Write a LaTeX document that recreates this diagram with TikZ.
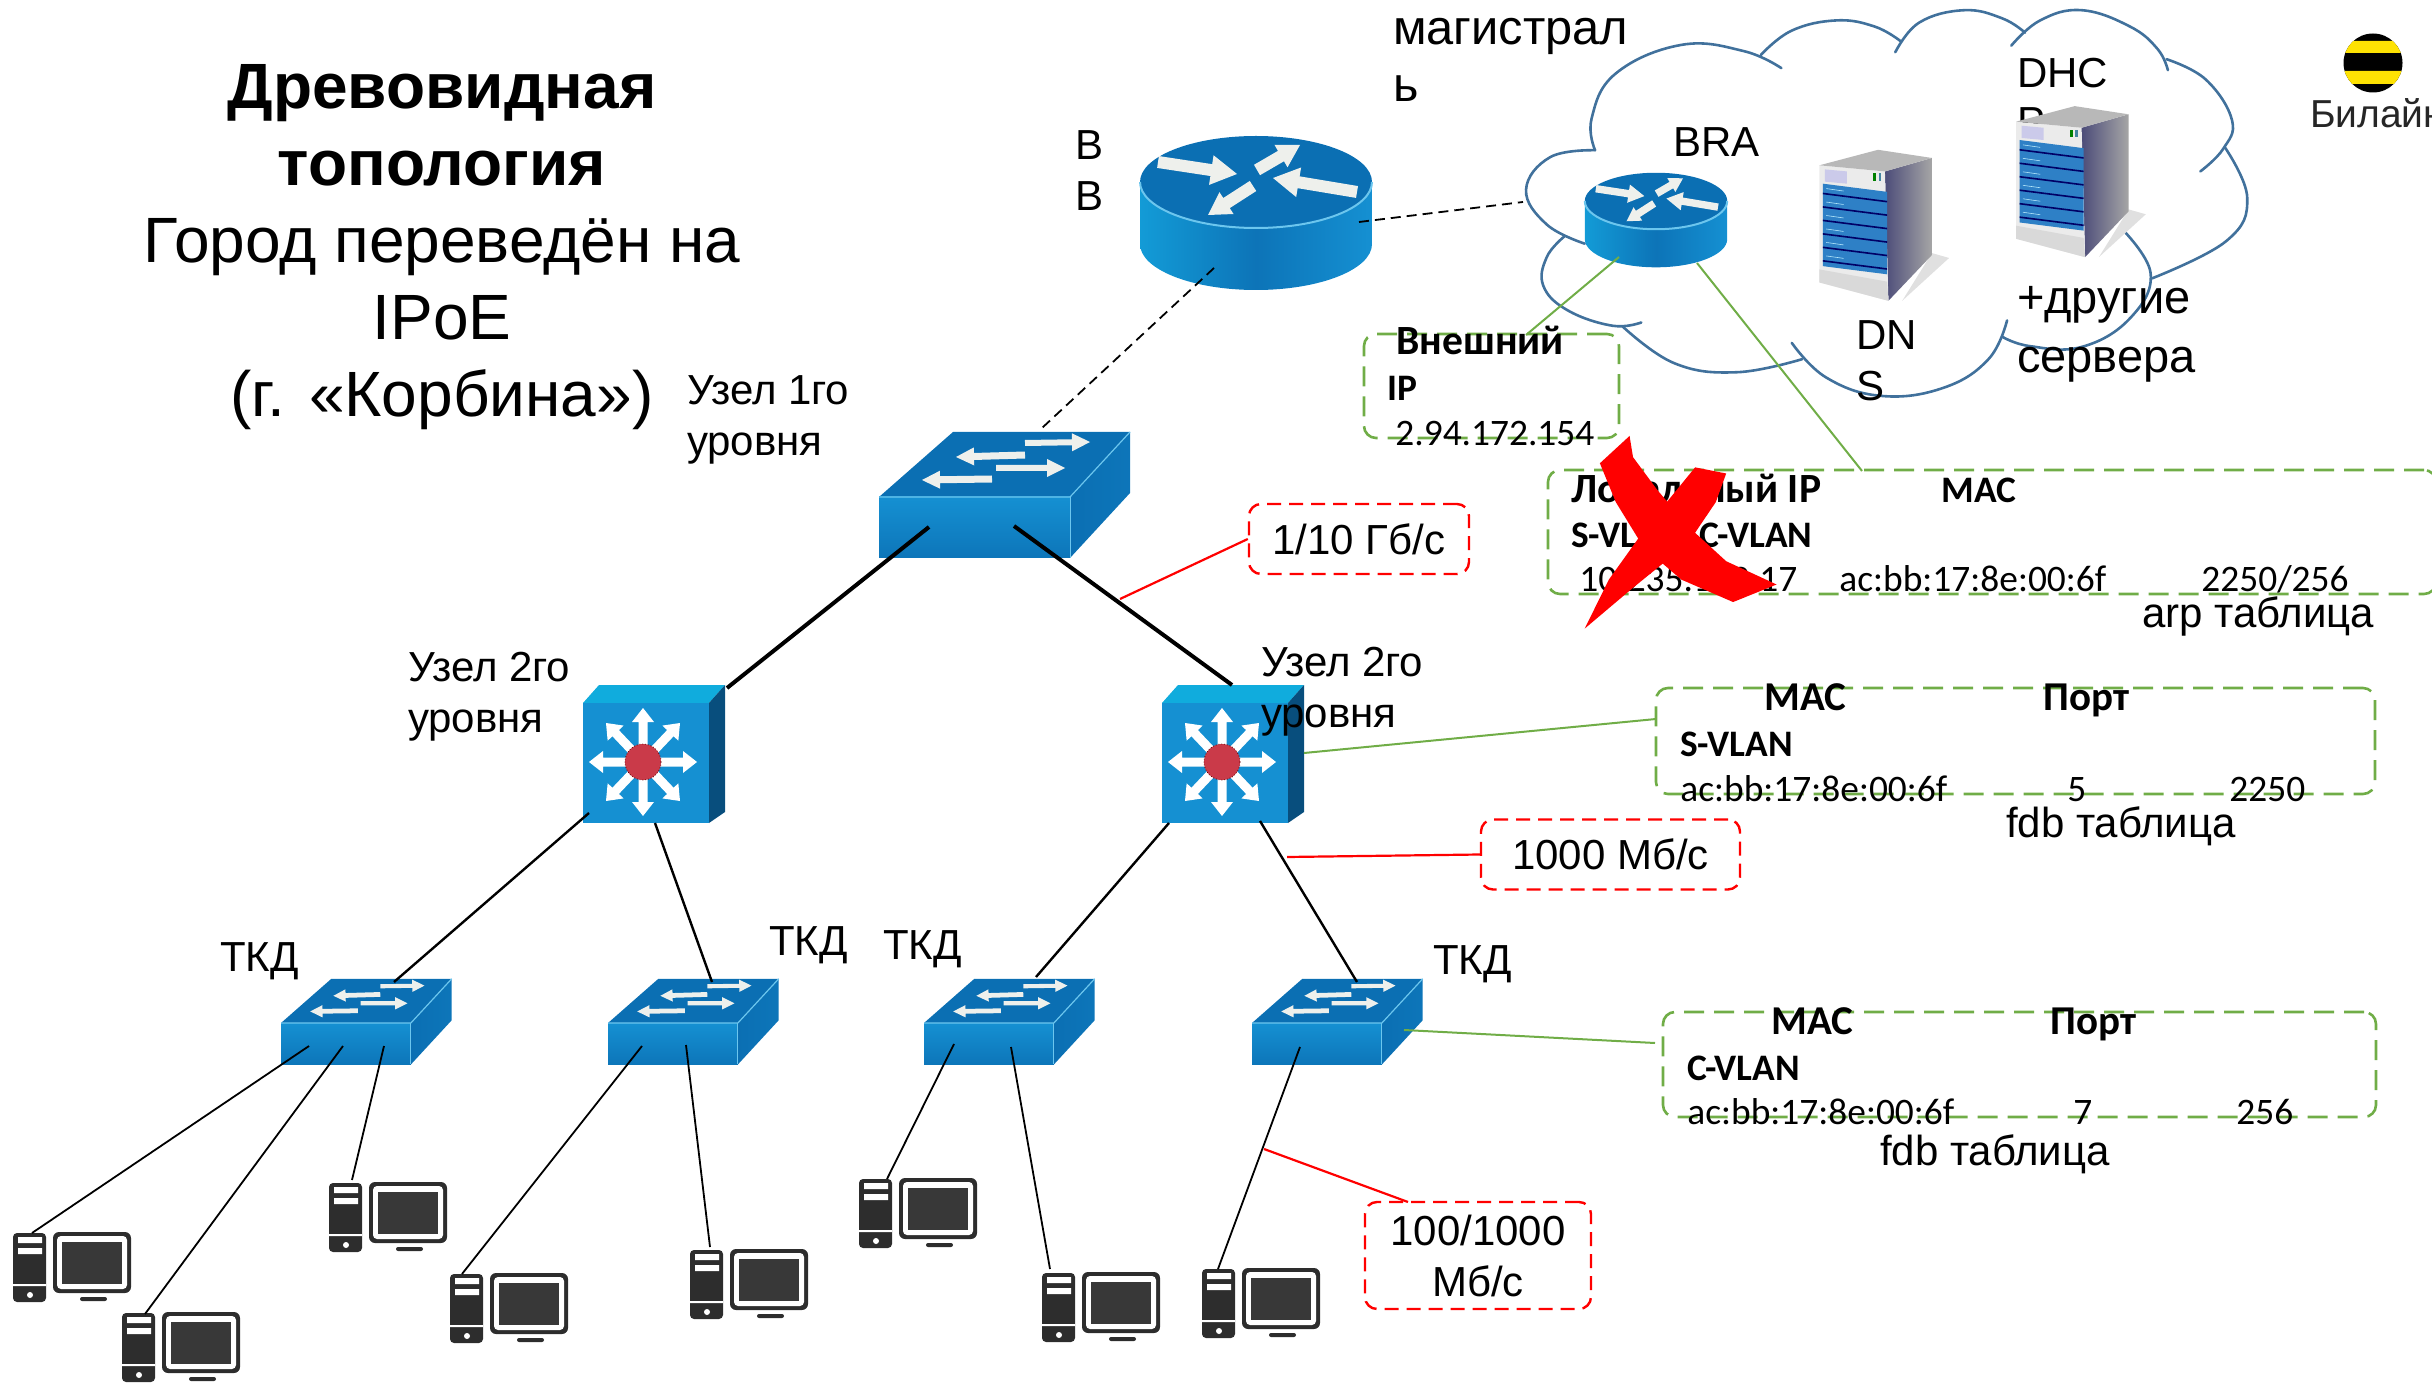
\documentclass[tikz,border=0pt]{standalone}
\usepackage{fontspec}
\setmainfont{Liberation Sans}
\newfontfamily\carl{Carlito}
\usetikzlibrary{calc}
\definecolor{cloudblue}{HTML}{41719C}
\definecolor{tgreen}{HTML}{70AD47}
\definecolor{tred}{HTML}{FF0000}
\definecolor{ciscoD}{HTML}{0B6FB3}
\definecolor{ciscoM}{HTML}{1590D2}
\definecolor{ciscoL}{HTML}{6CC6EE}
\definecolor{pcdark}{HTML}{2D2D2D}
\definecolor{arrowcream}{HTML}{EEF0EC}
\definecolor{rackblue}{HTML}{2E80C6}
\newcommand\warrow[8]{%
  \pgfmathsetmacro\wL{veclen(#3-#1,#4-#2)}%
  \pgfmathsetmacro\wux{(#3-#1)/\wL}%
  \pgfmathsetmacro\wuy{(#4-#2)/\wL}%
  \pgfmathsetmacro\wbx{#3-\wux*#6}%
  \pgfmathsetmacro\wby{#4-\wuy*#6}%
  \fill[#8] ({#1-\wuy*#5},{#2+\wux*#5}) -- ({\wbx-\wuy*#5},{\wby+\wux*#5}) -- ({\wbx-\wuy*#7},{\wby+\wux*#7}) -- (#3,#4) -- ({\wbx+\wuy*#7},{\wby-\wux*#7}) -- ({\wbx+\wuy*#5},{\wby-\wux*#5}) -- ({#1+\wuy*#5},{#2-\wux*#5}) -- cycle;}
% router: origin = centre of top ellipse
\newcommand\routerico[3]{%
\begin{scope}[shift={(#1,#2)},scale=#3]
  \shade[left color=ciscoM!90!cyan,right color=ciscoM,middle color=ciscoD!85!ciscoM]
    (-116,0) -- (-116,62) arc[x radius=116,y radius=46,start angle=180,end angle=0] -- (116,0) -- cycle;
  \fill[ciscoD] (0,0) ellipse[x radius=116,y radius=46];
  \draw[ciscoL,line width=1pt] (-116,0) arc[x radius=116,y radius=46,start angle=180,end angle=0];
  \warrow{-98}{-20}{-19}{-8}{6}{26}{15}{arrowcream}
  \warrow{1}{-12}{44}{-37}{6}{22}{13}{arrowcream}
  \warrow{101}{10}{17}{-4}{6}{26}{15}{arrowcream}
  \warrow{-3}{4}{-48}{33}{6}{22}{13}{arrowcream}
\end{scope}}
% switch: origin = top-left of front face
\newcommand\switchico[3]{%
\begin{scope}[shift={(#1,#2)},scale=#3]
  \fill[ciscoD] (0,0) -- (191,0) -- (251,-65) -- (74,-65) -- cycle;
  \shade[top color=ciscoM,bottom color=ciscoD!80!ciscoM] (0,0) rectangle (191,61);
  \shade[left color=ciscoD,right color=ciscoD!80!ciscoM] (191,0) -- (251,-65) -- (251,-4) -- (191,61) -- cycle;
  \draw[ciscoL,line width=.6pt] (0,0) -- (191,0) -- (251,-65);
  \draw[ciscoL,line width=.5pt] (191,0) -- (191,61);
  \warrow{146}{-54}{211}{-55}{3}{18}{9}{arrowcream}
  \warrow{146}{-42}{77}{-40}{3.5}{18}{9}{arrowcream}
  \warrow{117}{-29}{186}{-29}{3}{18}{9}{arrowcream}
  \warrow{113}{-18}{43}{-17}{3.5}{18}{9}{arrowcream}
\end{scope}}
% multilayer switch: origin = top-left of front face
\newcommand\mlico[2]{%
\begin{scope}[shift={(#1,#2)}]
  \fill[ciscoM!75!cyan] (0,0) -- (16,-18) -- (142,-18) -- (126,0) -- cycle;
  \fill[ciscoD!70!black] (126,0) -- (142,-18) -- (142,109) -- (126,120) -- cycle;
  \fill[ciscoM] (0,0) rectangle (126,120);
  \foreach \ax/\ay in {60/5,60/113,6/59,114/59,23/20,97/20,23/98,97/98}{%
    \warrow{60}{59}{\ax}{\ay}{4.5}{14}{11}{white}}
  \fill[red!75!ciscoM!90!white] (60,59) circle[radius=18];
  \draw[black!60!red,densely dotted,line width=.4pt] (60,59) circle[radius=18];
\end{scope}}
% desktop PC: origin = top-left of tower
\newcommand\pcico[2]{%
\begin{scope}[shift={(#1,#2)}]
  \fill[pcdark,rounded corners=2pt] (0,0) rectangle (33,69);
  \fill[white] (5,4) rectangle (29,10) (5,15) rectangle (29,21) (0,51) rectangle (33,53);
  \fill[white] (17,62) circle[radius=3];
  \fill[pcdark,rounded corners=3pt] (40,-1) rectangle (118,60);
  \fill[white,rounded corners=2pt] (44,3) rectangle (114,56);
  \fill[pcdark!95!white] (49,9) rectangle (109,51);
  \fill[pcdark,rounded corners=1pt] (67,64) rectangle (94,68);
\end{scope}}
% server tower, in the coordinates of the right-hand crop
\newcommand\serverico[2]{%
\begin{scope}[shift={(#1,#2)}]
  \fill[black!12] (843,620) -- (868,632) -- (800,737) -- cycle;
  \shade[left color=black!75!blue!70,right color=black!35] (775,420) -- (843,387) -- (843,625) -- (780,737) -- cycle;
  \fill[black!8] (680,405) -- (775,420) -- (780,737) -- (680,692) -- cycle;
  \fill[black!28] (680,405) -- (765,367) -- (843,387) -- (775,420) -- cycle;
  \fill[cyan!20!blue!20] (688,415) -- (720,420) -- (720,450) -- (688,445) -- cycle;
  \fill[green!50!black] (758,425) rectangle +(4,18);
  \fill[cyan!60!black] (766,425) rectangle +(4,18);
  \fill[rackblue] (685,450) -- (778,470) -- (778,672) -- (685,652) -- cycle;
  \foreach \ry in {0,1,2,3,4,5}{%
    \fill[black!60!blue] (685,{472+\ry*33}) -- (778,{492+\ry*33}) -- (778,{496+\ry*33}) -- (685,{476+\ry*33}) -- cycle;
    \draw[cyan!30,line width=.3pt] (690,{462+\ry*33}) -- (715,{468+\ry*33});}
  \fill[black!15] (680,660) -- (778,690) -- (780,737) -- (680,692) -- cycle;
\end{scope}}
\tikzset{
  lbl/.style={inner sep=0pt,outer sep=0pt,anchor=base west,align=left,text=black,
    font=\fontsize{21}{25.5}\selectfont},
  tblb/.style={inner sep=0pt,anchor=base west,font=\carl\bfseries\fontsize{18.7}{22}\selectfont},
  tblw/.style={inner sep=0pt,anchor=base west,font=\carl\bfseries\fontsize{20.8}{24}\selectfont},
  tblh/.style={inner sep=0pt,anchor=base west,font=\carl\bfseries\fontsize{20.5}{24}\selectfont},
  tbld/.style={inner sep=0pt,anchor=base west,font=\carl\fontsize{18.7}{22}\selectfont},
  dev/.style={inner sep=0pt,outer sep=0pt,minimum width={#1*0.5pt}},
  greenbox/.style={draw=tgreen,line width=1.3pt,rounded corners=6pt,dash pattern=on 10pt off 5pt,inner sep=0pt},
  redbox/.style={draw=tred,line width=1.2pt,rounded corners=6pt,dash pattern=on 7pt off 4pt,inner sep=0pt,
    align=center,font=\fontsize{21}{25.5}\selectfont},
  thick link/.style={draw=black,line width=2pt},
  mid link/.style={draw=black,line width=1.2pt},
  thin link/.style={draw=black,line width=.9pt},
  dash link/.style={draw=black,line width=.9pt,dash pattern=on 5pt off 3pt},
  red link/.style={draw=tred,line width=1.1pt},
  green link/.style={draw=tgreen,line width=1pt},
  cloudline/.style={draw=cloudblue,line width=1.3pt},
}
\begin{document}
\begin{tikzpicture}[x=0.5pt,y=-0.5pt]
\useasboundingbox (0,0) rectangle (2432,1390);
% cloud
\begin{scope}[x=0.34507pt,y=-0.20408pt,shift={(1956.15,0)}]
  \foreach \arc in {
   {(355,368)(290,385)(255,465)(285,550)(340,597)},
   {(355,368)(350,290)(385,180)(480,110)(570,125)(625,167)},
   {(595,135)(640,75)(705,50)(760,65)(797,100)},
   {(790,128)(825,55)(890,25)(945,45)(978,80)},
   {(958,112)(1000,50)(1060,25)(1130,65)(1170,120)(1185,172)},
   {(1183,145)(1240,195)(1278,295)(1265,365)(1232,420)},
   {(1268,362)(1300,485)(1270,590)(1162,682)},
   {(1118,560)(1160,670)(1130,780)(1060,850)(985,848)(945,825)},
   {(952,785)(925,880)(860,950)(770,970)(690,925)(640,840)},
   {(655,880)(560,912)(470,890)(395,800)},
   {(422,790)(380,798)(315,760)(280,700)(285,630)(310,580)}}{%
    \draw[cloudline,line cap=round] plot[smooth,tension=.7] coordinates {\arc};}
\end{scope}
% title
\node[inner sep=0pt,anchor=base,align=center,font=\fontsize{32}{38.5}\selectfont] (title) at (442,417)
 {\textbf{Древовидная}\\\textbf{топология}\\Город переведён на\\IPoE\\(г. «Корбина»)};
% cloud labels
\node[lbl,font=\fontsize{24.4}{28.5}\selectfont] (trunk) at (1393,102) {магистрал\\ь};
\node[lbl] (brastext) at (1673,157) {BRA};
\node[lbl,font=\fontsize{21}{24.5}\selectfont] (dhcp) at (2017,137) {DHC\\P};
\node[lbl] (dns) at (1856,401) {DN\\S};
\node[lbl,font=\fontsize{23.5}{29.5}\selectfont] (other) at (2017,373) {+другие\\сервера};
% servers
\begin{scope}[x=0.34507pt,y=-0.20408pt,shift={(1956.15,0)}]
  \serverico{0}{0}
  \serverico{285}{-107}
\end{scope}
\node[dev=114,minimum height=75pt] (dnssrv) at (1876,225) {};
\node[dev=114,minimum height=75pt] (dhcpsrv) at (2073,181) {};
% devices
\routerico{1256}{182}{1}
\routerico{1656}{201}{.614}
\node[dev=233,minimum height=77pt] (rt) at (1256,212) {};
\node[dev=143,minimum height=47pt] (bras) at (1656,220) {};
\switchico{879}{497}{1}
\node[dev=251,minimum height=63pt] (sw0) at (1004.5,495) {};
\mlico{583}{703}
\mlico{1162}{703}
\node[dev=142,minimum height=69pt] (ml1) at (654,754) {};
\node[dev=142,minimum height=69pt] (ml2) at (1233,754) {};
\switchico{281}{1023}{.68}
\switchico{608}{1023}{.68}
\switchico{924}{1023}{.68}
\switchico{1252}{1023}{.68}
\node[dev=171,minimum height=43pt] (sw1) at (366,1022) {};
\node[dev=171,minimum height=43pt] (sw2) at (693,1022) {};
\node[dev=171,minimum height=43pt] (sw3) at (1009,1022) {};
\node[dev=171,minimum height=43pt] (sw4) at (1337,1022) {};
\pcico{13}{1233}\pcico{122}{1313}\pcico{329}{1183}\pcico{450}{1274}
\pcico{690}{1250}\pcico{859}{1179}\pcico{1042}{1273}\pcico{1202}{1269}
\node[dev=118,minimum height=35pt] (pc1) at (72,1267) {};
\node[dev=118,minimum height=35pt] (pc2) at (181,1347) {};
\node[dev=118,minimum height=35pt] (pc3) at (388,1217) {};
\node[dev=118,minimum height=35pt] (pc4) at (509,1308) {};
\node[dev=118,minimum height=35pt] (pc5) at (749,1284) {};
\node[dev=118,minimum height=35pt] (pc6) at (918,1213) {};
\node[dev=118,minimum height=35pt] (pc7) at (1101,1307) {};
\node[dev=118,minimum height=35pt] (pc8) at (1261,1303) {};
% boxes
\node[greenbox,minimum width=127.5pt,minimum height=52pt] (ext) at (1491.5,386) {};
\node[greenbox,minimum width=444pt,minimum height=62pt] (loc) at (1992,532) {};
\node[greenbox,minimum width=359.5pt,minimum height=53pt] (fdbs) at (2015.5,741) {};
\node[greenbox,minimum width=356.5pt,minimum height=52.5pt] (fdbc) at (2019.5,1064.5) {};
\node[redbox,minimum width=110pt,minimum height=35pt] (r10g) at (1359,539) {1/10 Гб/с};
\node[redbox,minimum width=129.5pt,minimum height=35pt] (r1g) at (1610.5,854.5) {1000 Мб/с};
\node[redbox,minimum width=113pt,minimum height=53.5pt] (r100) at (1478,1255.5) {100/1000\\Мб/с};
% free ends
\coordinate (cloudedge) at (1523,202);
\coordinate (onlinkA) at (1120,599);
\coordinate (onlinkB) at (1287,857);
\coordinate (onlinkC) at (1264,1149);
% connectors
\newcommand\lnk[5]{\draw[#1] ([shift={(#3)}]#2.center) -- ([shift={(#5)}]#4.center);}
\lnk{dash link}{rt}{-42,56}{sw0}{37.5,-67}
\draw[dash link] ([shift={(103,10)}]rt.center) -- (cloudedge);
\lnk{thick link}{sw0}{-75.5,32}{ml1}{73,-66}
\lnk{thick link}{sw0}{9.5,31}{ml2}{-1,-69}
\lnk{mid link}{ml1}{-65,59}{sw1}{28,-40}
\lnk{mid link}{ml1}{1,69}{sw2}{19,-40}
\lnk{mid link}{ml2}{-64,69}{sw3}{27,-45}
\lnk{mid link}{ml2}{27,67}{sw4}{20,-40}
\lnk{thin link}{sw1}{-57,24}{pc1}{-40,-34}
\lnk{thin link}{sw1}{-23,24}{pc2}{-36,-33}
\lnk{thin link}{sw1}{18,24}{pc3}{-36,-37}
\lnk{thin link}{sw2}{-51,24}{pc4}{-47,-34}
\lnk{thin link}{sw2}{-7,23}{pc5}{-39,-37}
\lnk{thin link}{sw3}{-55,22}{pc6}{-31,-34}
\lnk{thin link}{sw3}{2,25}{pc7}{-51,-38}
\lnk{thin link}{sw4}{-37,25}{pc8}{-43,-34}
\draw[red link] (r10g.west) -- (onlinkA);
\draw[red link] (r1g.west) -- (onlinkB);
\draw[red link] ([shift={(-70,-53.5)}]r100.center) -- (onlinkC);
\lnk{green link}{bras}{-37,37}{ext}{34.5,-51}
\lnk{green link}{bras}{41,43}{loc}{-130,-61}
\lnk{green link}{ml2}{71,-1}{fdbs}{-359.5,-22}
\lnk{green link}{sw4}{67,8}{fdbc}{-364.5,-21.5}
% labels
\node[lbl] (lvl1) at (687,456) {Узел 1го\\уровня};
\node[lbl] (vv) at (1075,211) {В\\В};
\node[lbl] (lvl2a) at (408,732) {Узел 2го\\уровня};
\node[lbl] (lvl2b) at (1261,727) {Узел 2го\\уровня};
\node[lbl] (tkda) at (220,971) {ТКД};
\node[lbl] (tkdb) at (769,955) {ТКД};
\node[lbl] (tkdc) at (883,959) {ТКД};
\node[lbl] (tkdd) at (1433,974) {ТКД};
\node[lbl] (arpt) at (2142,627) {arp таблица};
\node[lbl] (fdbst) at (2006,837) {fdb таблица};
\node[lbl] (fdbct) at (1880,1165) {fdb таблица};
% external IP table
\node[tblw] (e1) at (1396,355) {Внешний};
\node[tblb] (e2) at (1387,401) {IP};
\node[tbld] (e3) at (1395,446) {2.94.172.154};
% local table
\node[tblw] (l1) at (1571,503) {Локальный IP};
\node[tblb] (l2) at (1941,503) {MAC};
\node[tblb] (l3) at (1571,548) {S-VLAN/C-VLAN};
\node[tbld] (l4) at (1579,591) {10.235.122.17};
\node[tbld] (l5) at (1839,591) {ac:bb:17:8e:00:6f};
\node[tbld] (l6) at (2201,591) {2250/256};
% fdb S
\node[tblh] (s1) at (1764,710) {MAC};
\node[tblh] (s2) at (2043,710) {Порт};
\node[tblb] (s3) at (1680,756) {S-VLAN};
\node[tbld] (s4) at (1680,801) {ac:bb:17:8e:00:6f};
\node[tbld] (s5) at (2067,801) {5};
\node[tbld] (s6) at (2229,801) {2250};
% fdb C
\node[tblh] (c1) at (1771,1034) {MAC};
\node[tblh] (c2) at (2050,1034) {Порт};
\node[tblb] (c3) at (1687,1080) {C-VLAN};
\node[tbld] (c4) at (1687,1124) {ac:bb:17:8e:00:6f};
\node[tbld] (c5) at (2073,1124) {7};
\node[tbld] (c6) at (2236,1124) {256};
% red cross
\begin{scope}[x=0.34507pt,y=-0.20408pt,shift={(1956.15,0)}]
  \fill[tred] (405,1068) -- (362,1135) -- (385,1230) -- (425,1340) -- (480,1420) -- (555,1475) -- (618,1432) -- (545,1375) -- (490,1290) -- (445,1200) -- (410,1120) -- cycle;
  \fill[tred] (500,1145) -- (545,1160) -- (530,1230) -- (490,1330) -- (410,1440) -- (340,1540) -- (375,1420) -- (430,1290) -- cycle;
\end{scope}
% logo
\begin{scope}
  \clip (2373,63) circle[radius=29.5];
  \fill[black] (2340,30) rectangle (2406,96);
  \fill[yellow!85!orange] (2340,41) rectangle (2406,53) (2340,71) rectangle (2406,84);
\end{scope}
\node[lbl,font=\fontsize{19.5}{22}\selectfont,text=black!85] (beeline) at (2310,128) {Билайн};
\end{tikzpicture}
\end{document}
